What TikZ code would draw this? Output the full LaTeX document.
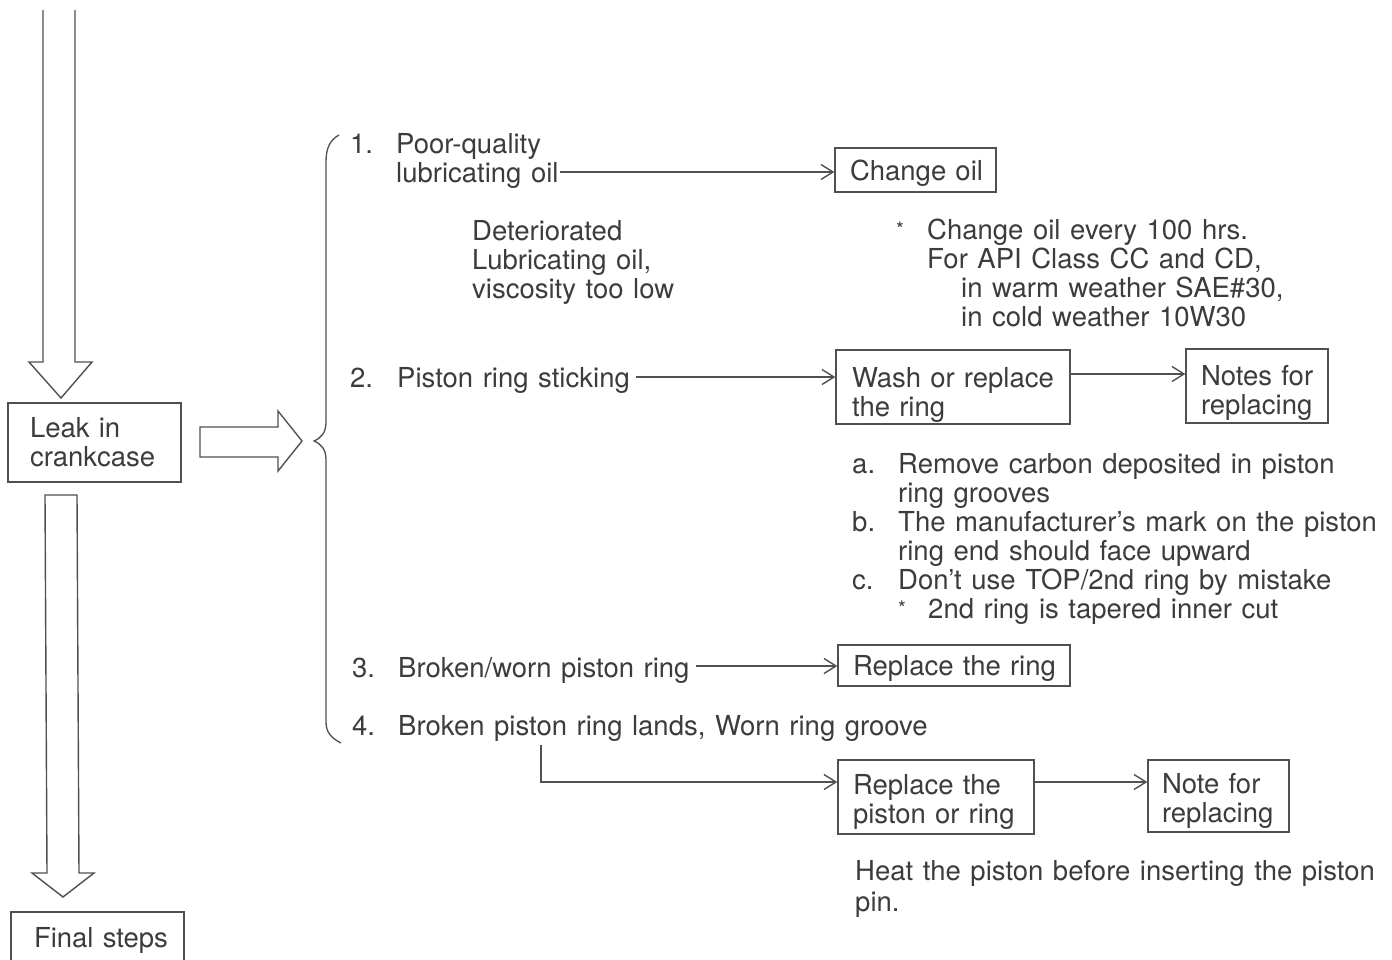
\documentclass[tikz,border=0pt]{standalone}
\usepackage{fontspec}
\setmainfont{TeX Gyre Heros}[WordSpace=1.25]
\usetikzlibrary{arrows.meta}
\definecolor{ink}{HTML}{3C3C3C}
\definecolor{linec}{HTML}{505050}
\begin{document}
\begin{tikzpicture}[x=1pt,y=-1pt,
  every node/.style={text=ink, font=\fontsize{27.5}{29}\selectfont},
  txt/.style={anchor=base west, inner sep=0pt},
  stars/.style={anchor=base west, inner sep=0pt, font=\fontsize{20}{20}\selectfont},
  box/.style={draw=linec, line width=1.4pt, inner ysep=0pt, align=left, anchor=center},
  conn/.style={draw=linec, line width=1.4pt, -{Straight Barb[length=12pt,width=15pt,line width=1.4pt]}},
  blockarrow/.style={draw=linec, line width=1.4pt, line join=miter},
  bracepath/.style={draw=linec, line width=1.3pt}]
\clip (0,0) rectangle (1392,959);
\fill[white] (0,0) rectangle (1392,959);

% left column boxes
\node[box, inner xsep=22pt, text width=129pt, minimum height=79pt] (leak) at (94.5,442.5) {\mbox{Leak in}\\\mbox{crankcase}};
\node[box, inner xsep=23pt, text width=127pt, minimum height=56pt] (final) at (97.5,940) {\mbox{Final steps}};

% block arrows
\draw[blockarrow] (43,10) -- (43,362) -- (29,362) -- (61,398) -- (92,362) -- (75,362) -- (75,10);
\draw[blockarrow] (200,427) -- (278,427) -- (278,411) -- (302,441) -- (278,471) -- (278,457) -- (200,457) -- cycle;
\draw[blockarrow] (45,495) -- (77,495) -- (79,873) -- (94,873) -- (63,897) -- (32,873) -- (47,873) -- cycle;

% brace
\draw[bracepath] (339,135) .. controls (330,140) and (326,148) .. (326,162) -- (326,422)
  .. controls (326,433) and (321,438) .. (314,441)
  .. controls (321,444) and (326,449) .. (326,460) -- (326,722)
  .. controls (326,732) and (331,738) .. (341,743);

% item 1
\node[txt] (n1) at (350,153) {1.};
\node[txt] (t1a) at (396,153) {Poor-quality};
\node[txt] (t1b) at (396,182) {lubricating oil};
\node[box, inner xsep=15pt, text width=131pt, minimum height=44pt, text depth=-2pt] (chg) at (915.5,170) {\mbox{Change oil}};
\coordinate (a1) at (560,172);
\draw[conn] (a1) -- (a1 -| chg.west);
\node[txt] (d1) at (472,240) {Deteriorated};
\node[txt] (d2) at (472,269) {Lubricating oil,};
\node[txt] (d3) at (472,298) {viscosity too low};
\node[stars] (s1) at (896,236) {*};
\node[txt] (c1) at (927,239) {Change oil every 100 hrs.};
\node[txt] (c2) at (927,268) {For API Class CC and CD,};
\node[txt] (c3) at (961,297) {in warm weather SAE\#30,};
\node[txt] (c4) at (961,326) {in cold weather 10W30};

% item 2
\node[txt] (n2) at (350,387) {2.};
\node[txt] (t2) at (397,387) {Piston ring sticking};
\node[box, inner xsep=16pt, text width=202pt, minimum height=74pt, text depth=19pt] (wash) at (953,387) {\mbox{Wash or replace}\\\mbox{the ring}};
\node[box, inner xsep=15pt, text width=112pt, minimum height=74pt, text depth=21pt] (notes) at (1257,386) {\mbox{Notes for}\\\mbox{replacing}};
\coordinate (a2) at (636,377);
\draw[conn] (a2) -- (a2 -| wash.west);
\draw[conn] ([yshift=13pt]wash.east) -- ([yshift=13pt]wash.east -| notes.west);
\node[txt] (la) at (852,473) {a.};
\node[txt] (l1) at (898,473) {Remove carbon deposited in piston};
\node[txt] (l2) at (898,502) {ring grooves};
\node[txt] (lb) at (852,531) {b.};
\node[txt] (l3) at (898,531) {The manufacturer's mark on the piston};
\node[txt] (l4) at (898,560) {ring end should face upward};
\node[txt] (lc) at (852,589) {c.};
\node[txt] (l5) at (898,589) {Don't use TOP/2nd ring by mistake};
\node[stars] (s2) at (898,615) {*};
\node[txt] (l6) at (928,618) {2nd ring is tapered inner cut};

% item 3
\node[txt] (n3) at (352,677) {3.};
\node[txt] (t3) at (398,677) {Broken/worn piston ring};
\node[box, inner xsep=15pt, text width=202pt, minimum height=41pt, text depth=-2pt] (rring) at (954,665.5) {\mbox{Replace the ring}};
\coordinate (a3) at (696,666);
\draw[conn] (a3) -- (a3 -| rring.west);

% item 4
\node[txt] (n4) at (352,735) {4.};
\node[txt] (t4) at (398,735) {Broken piston ring lands, Worn ring groove};
\node[box, inner xsep=15pt, text width=166pt, minimum height=74pt, text depth=25pt] (rpist) at (936,797) {\mbox{Replace the}\\\mbox{piston or ring}};
\node[box, inner xsep=14pt, text width=113pt, minimum height=72pt, text depth=25pt] (notefor) at (1218.5,796) {\mbox{Note for}\\\mbox{replacing}};
\coordinate (a4) at (541,745);
\draw[conn] (a4) |- ([yshift=15pt]rpist.west);
\draw[conn] ([yshift=15pt]rpist.east) -- ([yshift=15pt]rpist.east -| notefor.west);
\node[txt] (h1) at (855,880) {Heat the piston before inserting the piston};
\node[txt] (h2) at (855,911) {pin.};
\end{tikzpicture}
\end{document}
